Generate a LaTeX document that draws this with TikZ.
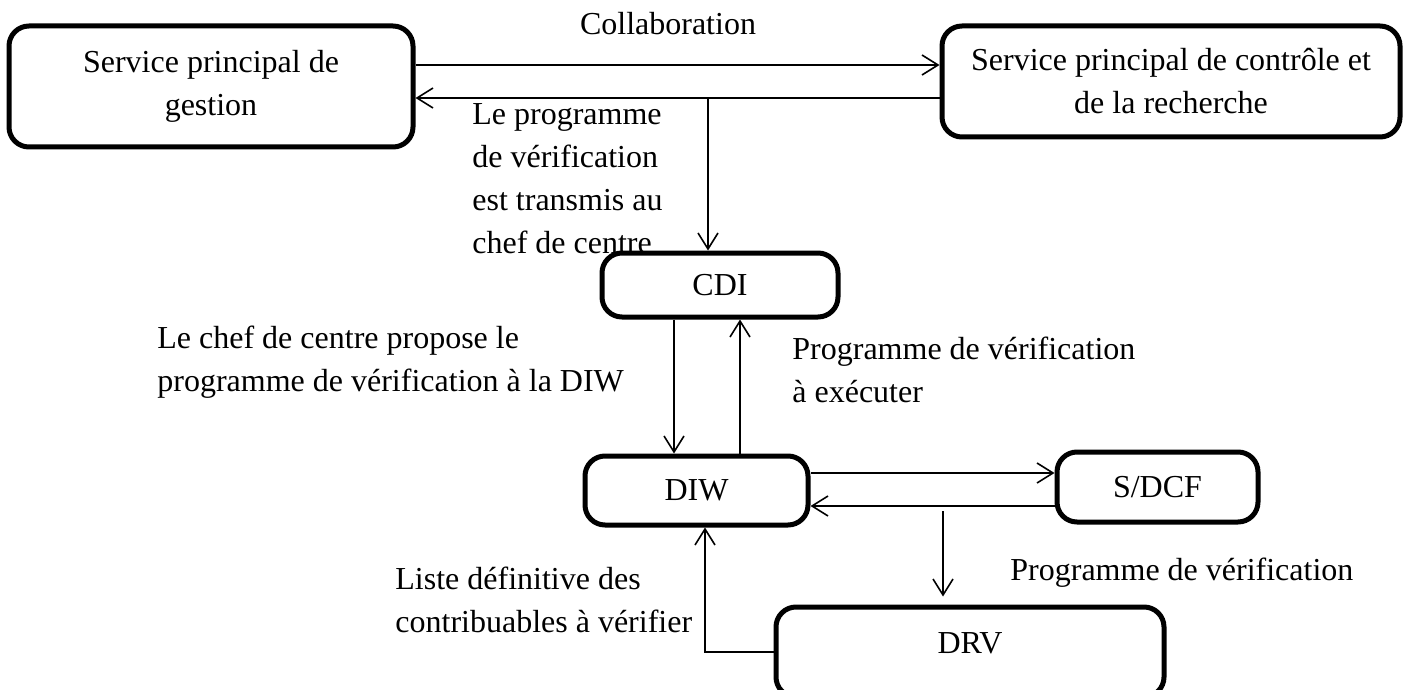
\documentclass[tikz,border=0pt]{standalone}
\usepackage{fontspec}
\setmainfont{Liberation Serif}
\usepackage{tikz}
\usetikzlibrary{arrows.meta, positioning, calc}

\begin{document}
\begin{tikzpicture}[
    x=0.5pt, y=-0.5pt,
    every node/.style={font=\fontsize{16}{21.5}\selectfont},
    box/.style={rectangle, rounded corners=10pt, draw=black, line width=2.5pt, align=center, inner sep=0pt},
    txt/.style={align=left, inner sep=0pt, anchor=north west},
    flow/.style={-{Straight Barb[length=8pt, width=10pt]}, line width=0.8pt}
]
\useasboundingbox (0,0) rectangle (1408,690);

\node[box, minimum width=202pt, minimum height=60.5pt] (gestion) at (211,86.5) {Service principal de\\gestion};
\node[box, minimum width=229pt, minimum height=55.5pt] (recherche) at (1171,81.5) {Service principal de contrôle et\\de la recherche};
\node[box, minimum width=118pt, minimum height=32pt] (cdi) at (720,285) {CDI};
\node[box, minimum width=111.5pt, minimum height=34.5pt] (diw) at (696.5,490.5) {DIW};
\node[box, minimum width=100.5pt, minimum height=35pt] (sdcf) at (1157.5,487) {S/DCF};
\node[box, minimum width=194pt, minimum height=45pt, label={[yshift=4.5pt]center:DRV}] (drv) at (970,652) {};

\node[anchor=base] (collab) at (668,35) {Collaboration};
\node[txt] (transmis) at (472,103) {Le programme\\de vérification\\est transmis au\\chef de centre};
\node[txt] (propose) at (157,326) {Le chef de centre propose le\\programme de vérification à la DIW};
\node[txt] (executer) at (792,337) {Programme de vérification\\à exécuter};
\node[txt] (liste) at (395,567) {Liste définitive des\\contribuables à vérifier};
\node[txt] (verif) at (1010,558) {Programme de vérification};

\coordinate (split) at (708,98);
\coordinate (split2) at (943,511);

\draw[flow] (gestion.east |- 0,65) -- (recherche.west |- 0,65);
\draw[flow] (recherche.west |- 0,98) -- (gestion.east |- 0,98);
\draw[flow] (split) -- (split |- cdi.north);
\draw[flow] (cdi.south -| 674,0) -- (diw.north -| 674,0);
\draw[flow] (diw.north -| 740,0) -- (cdi.south -| 740,0);
\draw[flow] (diw.east |- 0,473) -- (sdcf.west |- 0,473);
\draw[flow] (sdcf.west |- 0,506) -- (diw.east |- 0,506);
\draw[flow, shorten >=4pt] (split2) -- (split2 |- drv.north);
\draw[flow] (drv.west |- 0,652) -| (diw.south -| 705,0);
\end{tikzpicture}
\end{document}
